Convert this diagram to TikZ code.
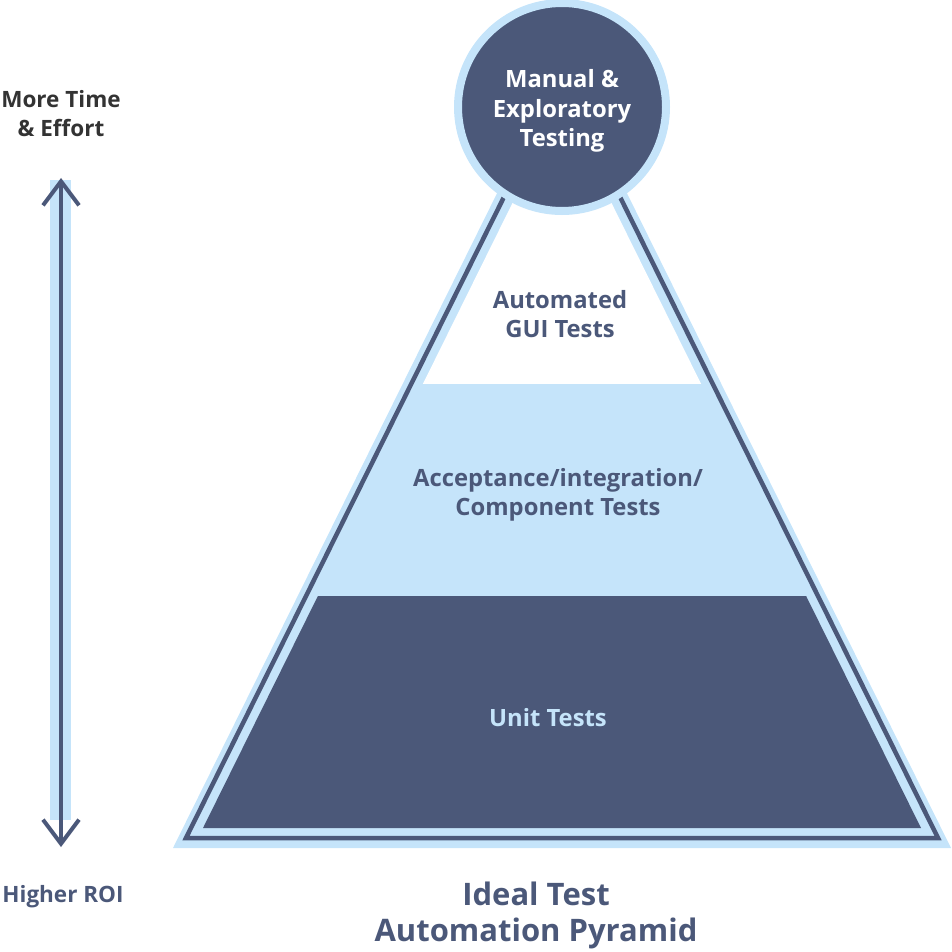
\documentclass[tikz,border=0pt]{standalone}
\usepackage{fontspec}
\setmainfont{Open Sans}
\usetikzlibrary{arrows.meta,positioning}
\definecolor{navy}{HTML}{4B5879}
\definecolor{sky}{HTML}{C5E4FA}
\definecolor{ink}{HTML}{333333}

\begin{document}
\begin{tikzpicture}[x=1pt, y=-1pt,
        lbl/.style={font=\bfseries\fontsize{23.8}{29.5}\selectfont, align=center, text=navy},
        side/.style={font=\bfseries\fontsize{22.5}{29}\selectfont, align=center},
        arr/.style={{Straight Barb[length=24pt,width=36pt]}-{Straight Barb[length=24pt,width=36pt]}, line width=4pt, draw=navy}
      ]
        \useasboundingbox (0,0) rectangle (952,952);
        % pyramid body
        \fill[sky] (562,62) -- (951,848) -- (173,848) -- cycle;
        \draw[navy, line width=4.5pt] (562,80) -- (938,838) -- (186,838) -- cycle;
        \begin{scope}
          \clip (562,103) -- (921,828) -- (203,828) -- cycle;
          \fill[white] (150,60) rectangle (960,384);
          \fill[navy] (150,596) rectangle (960,830);
        \end{scope}
        \node[circle, minimum size=208pt, fill=navy, draw=sky, line width=8pt] (top) at (562,107) {};
        \node[lbl, text=white] (manual) at (562,111) {Manual \&\\Exploratory\\Testing};
        \node[lbl] (gui) at (560,314) {Automated\\GUI Tests};
        \node[lbl] (accept) at (558,495) {Acceptance/integration/\\Component Tests};
        \node[lbl, text=sky] (unit) at (548,718) {Unit Tests};
        \node[lbl, font=\bfseries\fontsize{31}{36}\selectfont] (title) at (536,915) {Ideal Test\\Automation Pyramid};
        % effort scale
        \node[side, text=ink] (effort) at (61,114) {More Time\\\& Effort};
        \node[side, text=navy] (roi) at (63,897) {Higher ROI};
        \coordinate (up) at (61,178);
        \coordinate (down) at (61,847);
        \fill[sky] (50,180) rectangle (71,820);
        \draw[arr] (up) -- (down);
      \end{tikzpicture}
\end{document}
